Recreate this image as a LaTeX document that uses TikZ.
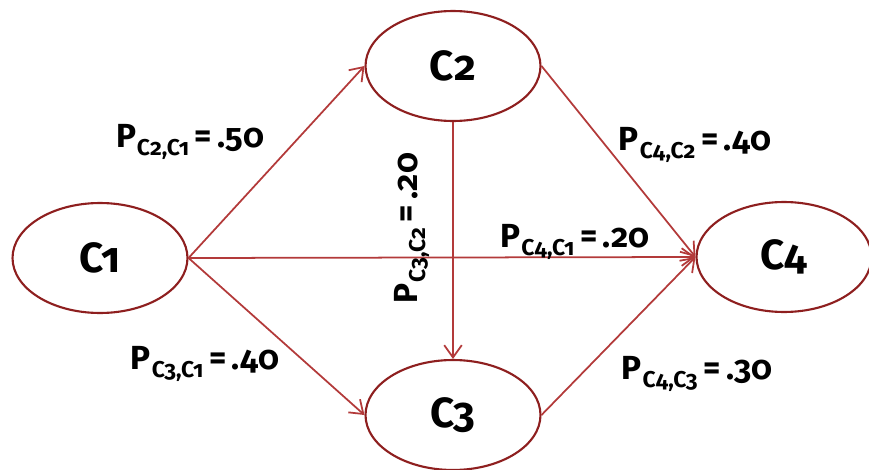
\documentclass[tikz,border=0pt]{standalone}
\usepackage{fontspec}
\setmainfont{Fira Sans}[Numbers=OldStyle]
\usepackage{tikz}
\usetikzlibrary{shapes.geometric,arrows.meta}
\usepackage{xcolor}
\definecolor{ovalred}{HTML}{8E1F1F}
\definecolor{linkred}{HTML}{B33A3A}
\newcommand{\probtext}[2]{P\kern0.5pt\raisebox{-0.45ex}{\fontsize{13}{14}\selectfont #1}\,=\,#2}

\begin{document}
\begin{tikzpicture}[x=0.02cm,y=-0.02cm]
  \tikzset{statenode/.style={ellipse,draw=ovalred,fill=white,line width=1.2pt,minimum width=3.5cm,minimum height=2.2cm,inner sep=0pt,font=\fontsize{24}{28}\selectfont\bfseries}}
  \tikzset{link/.style={draw=linkred,line width=1pt,-{Straight Barb[length=7pt,width=10pt]}}}
  \tikzset{problabel/.style={font=\fontsize{19}{22}\selectfont\bfseries,inner sep=1pt,text=black}}
  \useasboundingbox (0,0) rectangle (869,470);
  \node[statenode] (c1) at (100,258) {C1};
  \node[statenode] (c2) at (453,66) {C2};
  \node[statenode] (c3) at (453,415) {C3};
  \node[statenode] (c4) at (784,257) {C4};
  \draw[link] (c1.east) -- (c2.west);
  \draw[link] (c1.east) -- (c3.west);
  \draw[link] (c1.east) -- (c4.west);
  \draw[link] (c2.south) -- (c3.north);
  \draw[link] (c2.east) -- (c4.west);
  \draw[link] (c3.east) -- (c4.west);
  \node[problabel] (l21) at (190,142) {\probtext{C2,C1}{.50}};
  \node[problabel] (l31) at (205,364) {\probtext{C3,C1}{.40}};
  \node[problabel] (l41) at (575,242) {\probtext{C4,C1}{.20}};
  \node[problabel] (l42) at (695,145) {\probtext{C4,C2}{.40}};
  \node[problabel] (l43) at (697,374) {\probtext{C4,C3}{.30}};
  \node[problabel,rotate=90] (l32) at (412,228) {\probtext{C3,C2}{.20}};
\end{tikzpicture}
\end{document}
